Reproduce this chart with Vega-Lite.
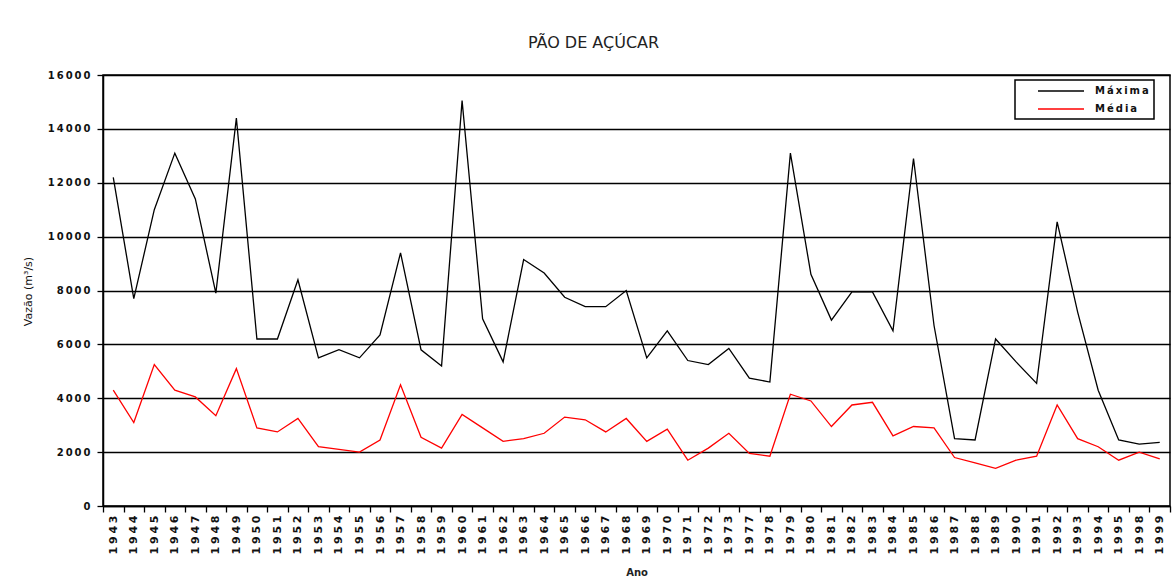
{
  "$schema": "https://vega.github.io/schema/vega-lite/v6.json",
  "autosize": "none",
  "width": 1067,
  "height": 431,
  "padding": {"left": 103, "top": 75, "right": 6, "bottom": 77},
  "background": "white",
  "title": {
    "text": "PÃO DE AÇÚCAR",
    "font": "DejaVu Sans",
    "fontSize": 16,
    "fontWeight": "normal",
    "color": "#222222",
    "anchor": "middle",
    "dx": -43,
    "offset": 19
  },
  "data": {
    "values": [
      {"Ano": "1943", "Maxima": 12200, "Media": 4300},
      {"Ano": "1944", "Maxima": 7700, "Media": 3100},
      {"Ano": "1945", "Maxima": 11000, "Media": 5250},
      {"Ano": "1946", "Maxima": 13100, "Media": 4300},
      {"Ano": "1947", "Maxima": 11400, "Media": 4050},
      {"Ano": "1948", "Maxima": 7900, "Media": 3350},
      {"Ano": "1949", "Maxima": 14400, "Media": 5100},
      {"Ano": "1950", "Maxima": 6200, "Media": 2900},
      {"Ano": "1951", "Maxima": 6200, "Media": 2750},
      {"Ano": "1952", "Maxima": 8400, "Media": 3250},
      {"Ano": "1953", "Maxima": 5500, "Media": 2200},
      {"Ano": "1954", "Maxima": 5800, "Media": 2100},
      {"Ano": "1955", "Maxima": 5500, "Media": 2000},
      {"Ano": "1956", "Maxima": 6350, "Media": 2450},
      {"Ano": "1957", "Maxima": 9400, "Media": 4500},
      {"Ano": "1958", "Maxima": 5800, "Media": 2550},
      {"Ano": "1959", "Maxima": 5200, "Media": 2150},
      {"Ano": "1960", "Maxima": 15050, "Media": 3400},
      {"Ano": "1961", "Maxima": 6950, "Media": 2900},
      {"Ano": "1962", "Maxima": 5350, "Media": 2400},
      {"Ano": "1963", "Maxima": 9150, "Media": 2500},
      {"Ano": "1964", "Maxima": 8650, "Media": 2700},
      {"Ano": "1965", "Maxima": 7750, "Media": 3300},
      {"Ano": "1966", "Maxima": 7400, "Media": 3200},
      {"Ano": "1967", "Maxima": 7400, "Media": 2750},
      {"Ano": "1968", "Maxima": 8000, "Media": 3250},
      {"Ano": "1969", "Maxima": 5500, "Media": 2400},
      {"Ano": "1970", "Maxima": 6500, "Media": 2850},
      {"Ano": "1971", "Maxima": 5400, "Media": 1700},
      {"Ano": "1972", "Maxima": 5250, "Media": 2150},
      {"Ano": "1973", "Maxima": 5850, "Media": 2700},
      {"Ano": "1977", "Maxima": 4750, "Media": 1950},
      {"Ano": "1978", "Maxima": 4600, "Media": 1850},
      {"Ano": "1979", "Maxima": 13100, "Media": 4150},
      {"Ano": "1980", "Maxima": 8600, "Media": 3900},
      {"Ano": "1981", "Maxima": 6900, "Media": 2950},
      {"Ano": "1982", "Maxima": 7950, "Media": 3750},
      {"Ano": "1983", "Maxima": 7950, "Media": 3850},
      {"Ano": "1984", "Maxima": 6500, "Media": 2600},
      {"Ano": "1985", "Maxima": 12900, "Media": 2950},
      {"Ano": "1986", "Maxima": 6700, "Media": 2900},
      {"Ano": "1987", "Maxima": 2500, "Media": 1800},
      {"Ano": "1988", "Maxima": 2450, "Media": 1600},
      {"Ano": "1989", "Maxima": 6200, "Media": 1400},
      {"Ano": "1990", "Maxima": 5350, "Media": 1700},
      {"Ano": "1991", "Maxima": 4550, "Media": 1850},
      {"Ano": "1992", "Maxima": 10550, "Media": 3750},
      {"Ano": "1993", "Maxima": 7200, "Media": 2500},
      {"Ano": "1994", "Maxima": 4300, "Media": 2200},
      {"Ano": "1995", "Maxima": 2450, "Media": 1700},
      {"Ano": "1998", "Maxima": 2300, "Media": 2000},
      {"Ano": "1999", "Maxima": 2360, "Media": 1750}
    ]
  },
  "encoding": {
    "x": {
      "field": "Ano",
      "type": "ordinal",
      "bandPosition": 0.5,
      "scale": {"type": "band", "paddingInner": 0, "paddingOuter": 0},
      "axis": {
        "title": "Ano",
        "titleFont": "DejaVu Sans",
        "titleFontSize": 10,
        "titleFontWeight": "bold",
        "titleColor": "#222222",
        "titleY": 66,
        "titleBaseline": "middle",
        "labelAngle": -90,
        "labelExpr": "join(split(datum.label, ''), '\u2005')",
        "labelFont": "DejaVu Sans",
        "labelFontSize": 11,
        "labelFontWeight": "bold",
        "labelColor": "#111111",
        "labelPadding": 3,
        "tickBand": "extent",
        "tickSize": 6,
        "tickColor": "black",
        "tickWidth": 1.3,
        "domainColor": "black",
        "domainWidth": 1.5,
        "grid": false
      }
    },
    "y": {
      "type": "quantitative",
      "scale": {"domain": [0, 16000], "nice": false},
      "axis": {
        "title": "Vazão (m³/s)",
        "titleFont": "DejaVu Sans",
        "titleFontSize": 11,
        "titleFontWeight": "normal",
        "titleColor": "#111111",
        "titleX": -75,
        "titleY": 216,
        "titleAngle": -90,
        "titleAlign": "center",
        "titleBaseline": "middle",
        "values": [0, 2000, 4000, 6000, 8000, 10000, 12000, 14000, 16000],
        "format": "d",
        "labelExpr": "join(split(datum.label, ''), '\u2009')",
        "labelFont": "DejaVu Sans",
        "labelFontSize": 10,
        "labelFontWeight": "bold",
        "labelColor": "#111111",
        "labelPadding": 7,
        "tickSize": 6,
        "tickColor": "black",
        "tickWidth": 1.3,
        "domainColor": "black",
        "domainWidth": 1.5,
        "grid": true,
        "gridColor": "black",
        "gridWidth": 1.3,
        "gridOpacity": 1
      }
    }
  },
  "layer": [
    {
      "mark": {"type": "line", "strokeWidth": 1.3},
      "encoding": {
        "y": {"field": "Maxima", "type": "quantitative"},
        "color": {"datum": "Máxima"}
      }
    },
    {
      "mark": {"type": "line", "strokeWidth": 1.3},
      "encoding": {
        "y": {"field": "Media", "type": "quantitative"},
        "color": {
          "datum": "Média",
          "scale": {"domain": ["Máxima", "Média"], "range": ["#000000", "#ff0000"]},
          "legend": {
            "title": null,
            "orient": "none",
            "legendX": 912,
            "legendY": 5,
            "strokeColor": "black",
            "fillColor": "white",
            "padding": 5,
            "symbolType": "M2.4,0H11.6",
            "symbolSize": 100,
            "symbolStrokeWidth": 1.5,
            "labelExpr": "join(split(datum.label, ''), '\u2009')",
            "labelFont": "DejaVu Sans",
            "labelFontSize": 10,
            "labelFontWeight": "bold",
            "labelColor": "#111111",
            "rowPadding": 7,
            "labelOffset": 63,
            "encode": {"legend": {"update": {"strokeWidth": {"value": 1.5}}}}
          }
        }
      }
    }
  ],
  "config": {
    "view": {"stroke": "black", "strokeWidth": 1.5}
  }
}
